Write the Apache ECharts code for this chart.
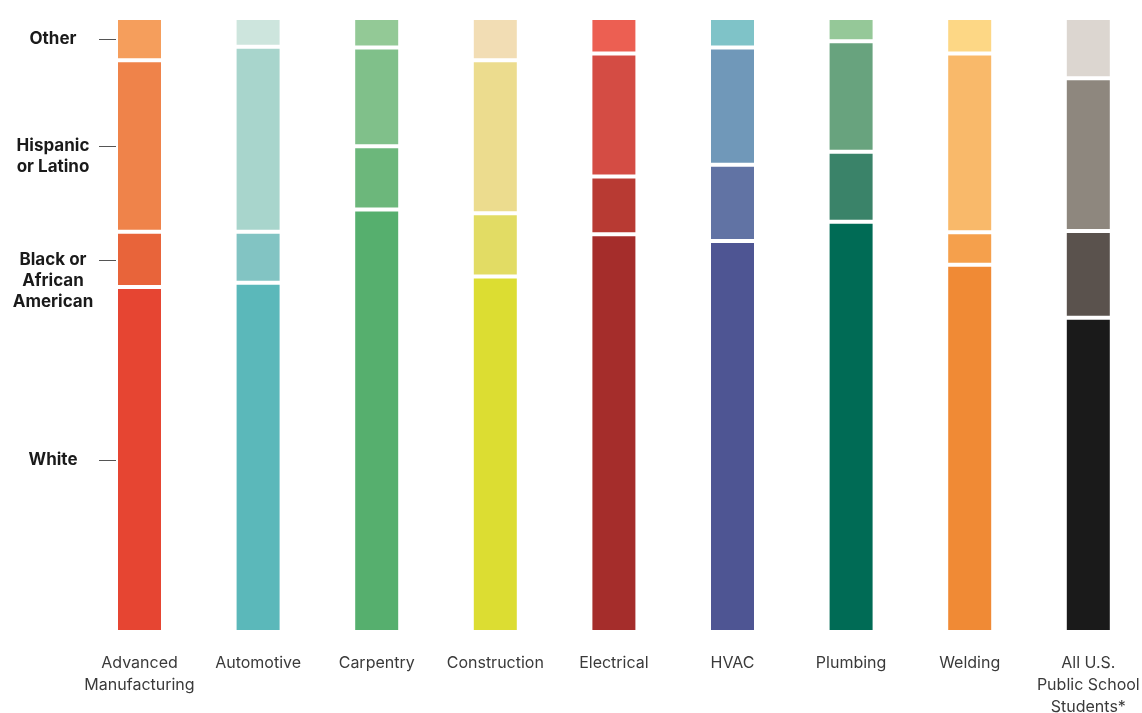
<!DOCTYPE html>
<html>
<head>
<meta charset="utf-8">
<script src="https://cdn.jsdelivr.net/npm/echarts@6/dist/echarts.min.js"></script>
<style>
html,body{margin:0;padding:0;background:#fff;}
#chart{width:1142px;height:713px;}
</style>
</head>
<body>
<div id="chart"></div>
<script>
// Categories
const categories = ['Advanced\nManufacturing','Automotive','Carpentry','Construction','Electrical','HVAC','Plumbing','Welding','All U.S.\nPublic School\nStudents*'];

// Series values (percent share)
const white    = [56.2, 56.9, 68.8, 57.9, 64.8, 63.7, 66.8, 59.8, 51.2];
const black    = [ 9.0,  8.3, 10.3, 10.3,  9.4, 12.4, 11.4,  5.3, 14.1];
const hispanic = [27.9, 30.1, 16.1, 24.9, 20.0, 19.1, 18.0, 29.1, 24.9];
const other    = [ 6.9,  4.7,  4.8,  6.9,  5.8,  4.8,  3.8,  5.8,  9.8];

// Y-axis labels and where they sit (value scale 0-100)
const yLabelNames = ['White', 'Black or\nAfrican\nAmerican', 'Hispanic\nor Latino', 'Other'];
const yLabelValues = [28.05, 57.2, 77.45, 96.57];
const yTickValues  = [28.05, 60.62, 79.13, 96.57];

// Colours per category (segment shades)
const colWhite    = ['#E64532','#5BB8BA','#56AF6E','#DCDD32','#A52D2B','#4E5593','#006B55','#F08A35','#1A1A1A'];
const colBlack    = ['#E8643A','#82C4C3','#6CB77B','#E2DC64','#B83A33','#6173A4','#3A8369','#F5A04C','#5A524D'];
const colHispanic = ['#EF834A','#A8D5CC','#80C08A','#ECDC8E','#D44C44','#7098B9','#68A37E','#F9B96A','#8E877E'];
const colOther    = ['#F59E5C','#CDE5DD','#93C996','#F2DDB4','#EC5F52','#7FC3C8','#95C898','#FDD785','#DCD6D0'];

function mk(name, vals, cols) {
  return {
    name: name,
    type: 'bar',
    stack: 'total',
    barWidth: 47,
    clip: false,
    itemStyle: { borderColor: '#ffffff', borderWidth: 2 },
    data: vals.map((v, i) => ({ value: v, itemStyle: { color: cols[i] } }))
  };
}

const chart = echarts.init(document.getElementById('chart'), null, { renderer: 'canvas' });
chart.setOption({
  animation: false,
  backgroundColor: '#ffffff',
  grid: { left: 80.2, width: 1067.4, top: 18, height: 614, containLabel: false, outerBoundsMode: 'none' },
  xAxis: {
    type: 'category',
    data: categories,
    axisLine: { show: false },
    axisTick: { show: false },
    axisLabel: {
      interval: 0,
      margin: 20,
      fontFamily: 'Inter',
      fontSize: 16,
      lineHeight: 22,
      color: '#3a3a3a',
      align: 'center'
    }
  },
  yAxis: {
    type: 'value',
    min: 0,
    max: 100,
    offset: -36.8,
    splitLine: { show: false },
    axisLine: { show: false },
    axisTick: {
      show: true,
      length: 18,
      customValues: yTickValues,
      lineStyle: { color: '#555555', width: 1 }
    },
    axisLabel: {
      customValues: yLabelValues,
      margin: 64,
      align: 'center',
      fontFamily: 'Inter',
      fontWeight: 'bold',
      fontSize: 17,
      lineHeight: 21,
      color: '#1a1a1a',
      formatter: function (v) {
        let best = 0, d = 1e9;
        yLabelValues.forEach((p, i) => { if (Math.abs(p - v) < d) { d = Math.abs(p - v); best = i; } });
        return yLabelNames[best];
      }
    }
  },
  series: [
    mk('White', white, colWhite),
    mk('Black or African American', black, colBlack),
    mk('Hispanic or Latino', hispanic, colHispanic),
    mk('Other', other, colOther)
  ]
});
</script>
</body>
</html>
